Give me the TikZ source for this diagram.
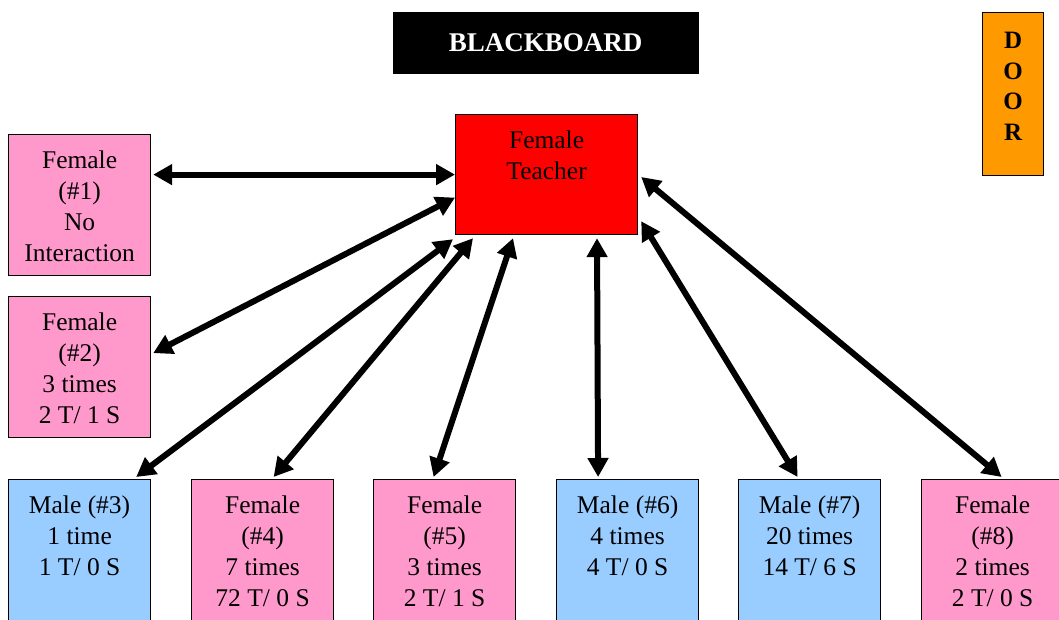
\documentclass[tikz,border=0pt]{standalone}
\usepackage{fontspec}
\setmainfont{Liberation Serif}
\usetikzlibrary{arrows.meta}

\definecolor{girlpink}{HTML}{FF99CC}
\definecolor{boyblue}{HTML}{99CCFF}
\definecolor{teachred}{HTML}{FF0000}
\definecolor{doororange}{HTML}{FF9900}

\tikzset{
  x=1pt, y=1pt,
  seat/.style={draw=black, line width=1.2pt, minimum width=142pt, minimum height=141pt,
    inner sep=0pt, anchor=north west},
  lowseat/.style={seat, minimum height=170pt},
  girl/.style={fill=girlpink},
  boy/.style={fill=boyblue},
  lbl/.style={anchor=north, align=center, inner sep=0pt,
    font=\fontsize{25.5}{31}\selectfont},
  talk/.style={line width=6pt,
    {Triangle[length=19pt,width=20pt]}-{Triangle[length=19pt,width=20pt]}},
}

\begin{document}
\begin{tikzpicture}
\clip (0,0) rectangle (1059,619);
\fill[white] (0,0) rectangle (1059,619);

% front of the room
\node[draw=black, fill=black, minimum width=305pt, minimum height=61pt, inner sep=0pt,
  anchor=north west, text=white, font=\fontsize{27}{31}\selectfont\bfseries]
  (board) at (393,607) {BLACKBOARD};
\node[draw=black, line width=1.2pt, fill=doororange, minimum width=61pt, minimum height=163pt,
  inner sep=0pt, anchor=north west] (door) at (982,607) {};
\node[lbl, font=\fontsize{25}{30.5}\selectfont\bfseries] (doortxt) at ([yshift=-20]door.north)
  {D\\O\\O\\R};

% teacher
\node[draw=black, line width=1.2pt, fill=teachred, minimum width=182pt, minimum height=120pt,
  inner sep=0pt, anchor=north west] (teacher) at (455,505) {};
\node[lbl] (teachertxt) at ([yshift=-16.5]teacher.north) {Female\\Teacher};

% students along the left wall
\node[seat, girl] (s1) at (8,485) {};
\node[lbl] (s1txt) at ([yshift=-16.5]s1.north) {Female\\(\#1)\\No\\Interaction};
\node[seat, girl] (s2) at (8,323) {};
\node[lbl] (s2txt) at ([yshift=-16.5]s2.north) {Female\\(\#2)\\3 times\\2 T/ 1 S};

% students in the bottom row
\node[lowseat, boy]  (s3) at (8,140) {};
\node[lbl] (s3txt) at ([yshift=-16.5]s3.north) {Male (\#3)\\1 time\\1 T/ 0 S};
\node[lowseat, girl] (s4) at (191,140) {};
\node[lbl] (s4txt) at ([yshift=-16.5]s4.north) {Female\\(\#4)\\7 times\\72 T/ 0 S};
\node[lowseat, girl] (s5) at (373,140) {};
\node[lbl] (s5txt) at ([yshift=-16.5]s5.north) {Female\\(\#5)\\3 times\\2 T/ 1 S};
\node[lowseat, boy]  (s6) at (556,140) {};
\node[lbl] (s6txt) at ([yshift=-16.5]s6.north) {Male (\#6)\\4 times\\4 T/ 0 S};
\node[lowseat, boy]  (s7) at (738,140) {};
\node[lbl] (s7txt) at ([yshift=-16.5]s7.north) {Male (\#7)\\20 times\\14 T/ 6 S};
\node[lowseat, girl] (s8) at (921,140) {};
\node[lbl] (s8txt) at ([yshift=-16.5]s8.north) {Female\\(\#8)\\2 times\\2 T/ 0 S};

% interactions
\draw[talk] ([xshift=2]s1.east |- teacher.west) -- (teacher.west);
\draw[talk] ([xshift=2,yshift=14]s2.east) -- ([yshift=-23]teacher.west);
\draw[talk] ([xshift=-15,yshift=2]s3.north east) -- ([xshift=-2,yshift=-4]teacher.south west);
\draw[talk] ([xshift=11,yshift=2]s4.north) -- ([xshift=18,yshift=-3]teacher.south west);
\draw[talk] ([xshift=-11,yshift=2]s5.north) -- ([xshift=58,yshift=-3]teacher.south west);
\draw[talk] ([xshift=-29.5,yshift=2]s6.north) -- ([xshift=142,yshift=-3]teacher.south west);
\draw[talk] ([xshift=-12,yshift=2]s7.north) -- ([xshift=3,yshift=14]teacher.south east);
\draw[talk] ([xshift=9,yshift=2]s8.north) -- ([xshift=3,yshift=-63]teacher.north east);
\end{tikzpicture}
\end{document}
